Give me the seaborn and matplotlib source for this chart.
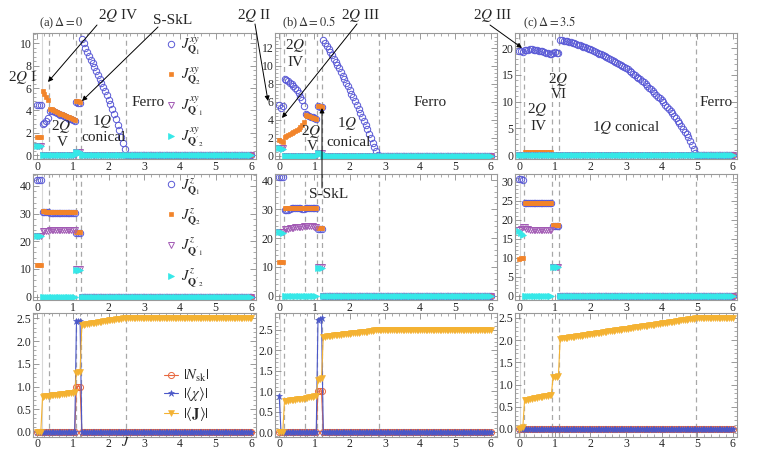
import numpy as np
import matplotlib
matplotlib.use("Agg")
import matplotlib.pyplot as plt
from matplotlib.patches import FancyArrowPatch
from matplotlib.ticker import MultipleLocator, FormatStrFormatter
import seaborn as sns

# sampling grid of the coupling J (0 .. 6, step 0.05)
J = np.round(np.arange(0, 6.0001, 0.05), 2)

# ---------------- (a) Delta = 0 ----------------
# 2Q I (3) | 2Q IV (4) | 2Q V (15) | S-SkL (3) | 1Q conical (25) | Ferro (71)
a_conical = [10.4, 10.0, 9.6, 9.25, 8.9, 8.55, 8.2, 7.85, 7.5, 7.15, 6.8, 6.45, 6.1,
             5.75, 5.35, 4.95, 4.55, 4.1, 3.65, 3.2, 2.7, 2.2, 1.65, 1.1, 0.5]
a_v_q1 = [3.9, 3.95, 3.9, 3.83, 3.76, 3.69, 3.62, 3.55, 3.48, 3.41, 3.34, 3.27, 3.2, 3.13, 3.06]
a_v_q2 = [4.15, 4.08, 4.0, 3.93, 3.86, 3.79, 3.72, 3.65, 3.58, 3.51, 3.44, 3.37, 3.3, 3.23, 3.16]

a_xy_q1 = [4.5] * 3 + [2.75, 2.9, 3.05, 3.3] + a_v_q1 + [4.75, 4.7, 4.65] + a_conical + [0.0] * 71
a_xy_q2 = [1.6] * 3 + [5.7, 5.45, 5.2, 4.9] + a_v_q2 + [4.85, 4.8, 4.75] + [0.0] * 25 + [0.0] * 71
a_xy_q1p = [0.85] * 3 + [0.0] * 4 + [0.0] * 15 + [0.3] * 3 + [0.0] * 96
a_xy_q2p = [0.8] * 3 + [0.0] * 4 + [0.0] * 15 + [0.3] * 3 + [0.0] * 96

a_z_q1 = [42.0] * 3 + [30.5] * 4 + [30.3] * 15 + [23.0] * 3 + [0.0] * 96
a_z_q2 = [11.5] * 3 + [31.0, 30.8, 30.7, 30.6] + [30.6] * 15 + [23.3] * 3 + [0.0] * 96
a_z_q1p = [21.8] * 3 + [23.8] * 4 + [23.9] * 15 + [10.0] * 3 + [0.0] * 96
a_z_q2p = [22.0, 21.8, 22.0] + [0.0] * 4 + [0.0] * 15 + [9.5] * 3 + [0.0] * 96

a_nsk = [0.0] * 22 + [1.0] * 3 + [0.0] * 96
a_chi = [0.0] * 22 + [2.45] * 3 + [0.0] * 96
a_jmag = ([0.0] * 3 + [0.78, 0.785, 0.79, 0.795]
          + [0.80, 0.805, 0.81, 0.815, 0.82, 0.825, 0.83, 0.835, 0.84, 0.845, 0.85, 0.855, 0.86, 0.865, 0.87]
          + [1.3, 1.32, 1.33]
          + [2.35, 2.36, 2.37, 2.37, 2.38, 2.39, 2.40, 2.40, 2.41, 2.42, 2.42, 2.43, 2.44,
             2.44, 2.45, 2.46, 2.46, 2.47, 2.47, 2.48, 2.48, 2.49, 2.49, 2.5, 2.5]
          + [2.5] * 71)

# ---------------- (b) Delta = 0.5 ----------------
# 2Q II (1) | 2Q III (2) | 2Q IV (12) | 2Q V (7) | S-SkL (3) | 1Q conical (32) | Ferro (64)
b_conical = [12.9, 12.55, 12.2, 11.85, 11.5, 11.15, 10.8, 10.45, 10.1, 9.7, 9.3, 8.9, 8.5, 8.1,
             7.7, 7.3, 6.9, 6.5, 6.1, 5.65, 5.2, 4.75, 4.3, 3.85, 3.4, 2.95, 2.45, 1.95, 1.45,
             0.95, 0.5, 0.1]
b_xy_q1 = ([5.6] + [5.3, 5.5]
           + [8.55, 8.4, 8.25, 8.1, 7.95, 7.75, 7.5, 7.25, 6.95, 6.55, 6.15, 5.5]
           + [4.6, 4.5, 4.45, 4.35, 4.25, 4.2, 4.1] + [5.5, 5.45, 5.4] + b_conical + [0.0] * 64)
b_xy_q2 = ([1.7] + [1.6, 1.5]
           + [2.1, 2.2, 2.3, 2.4, 2.5, 2.6, 2.7, 2.85, 3.0, 3.2, 3.45, 3.75]
           + [4.55, 4.45, 4.4, 4.3, 4.2, 4.15, 4.05] + [5.55, 5.5, 5.45] + [0.0] * 96)
b_xy_q1p = [0.85] * 3 + [0.0] * 19 + [0.35] * 3 + [0.0] * 96
b_xy_q2p = [0.9, 0.85, 0.8] + [0.0] * 19 + [0.35] * 3 + [0.0] * 96

b_z_q1 = ([41.0] * 3 + [29.5, 29.6, 29.8, 30.0, 30.2, 30.4, 30.5, 30.5, 30.4, 30.2, 30.1, 30.0]
          + [30.2] * 7 + [23.0] * 3 + [0.0] * 96)
b_z_q2 = [11.8] * 3 + [30.5] * 12 + [30.5] * 7 + [23.3] * 3 + [0.0] * 96
b_z_q1p = ([22.0] * 3 + [23.0, 23.1, 23.25, 23.4, 23.5, 23.6, 23.7, 23.8, 23.85, 23.9, 23.95, 24.0]
           + [24.1, 24.1, 24.1, 24.0, 24.0, 23.9, 23.9] + [10.0] * 3 + [0.0] * 96)
b_z_q2p = [22.2, 22.0, 21.8] + [0.0] * 19 + [9.6] * 3 + [0.0] * 96

b_nsk = [0.0] * 22 + [1.0] * 3 + [0.0] * 96
b_chi = [0.87] + [0.0] * 21 + [2.75, 2.77, 2.78] + [0.0] * 96
b_jmag = ([0.0] * 3
          + [0.76, 0.765, 0.77, 0.775, 0.78, 0.785, 0.79, 0.795, 0.80, 0.805, 0.81, 0.815]
          + [0.83, 0.84, 0.85, 0.855, 0.86, 0.87, 0.88]
          + [1.28, 1.3, 1.31]
          + [2.33, 2.335, 2.34, 2.345, 2.35, 2.355, 2.36, 2.365, 2.37, 2.375, 2.38, 2.385,
             2.39, 2.395, 2.40, 2.405, 2.41, 2.415, 2.42, 2.425, 2.43, 2.435, 2.44, 2.445,
             2.45, 2.455, 2.46, 2.47, 2.475, 2.485, 2.49, 2.5]
          + [2.5] * 64)

# ---------------- (c) Delta = 3.5 ----------------
# 2Q III (3) | 2Q IV (16) | 2Q VI (4) | 1Q conical (77) | Ferro (21)
c_conical = [21.6, 21.5, 21.45, 21.35, 21.3, 21.2, 21.15, 21.05,
             20.95, 20.8, 20.7, 20.55, 20.45, 20.3, 20.2, 20.05, 19.95, 19.8,
             19.65, 19.5, 19.3, 19.15, 19.0, 18.85, 18.7, 18.5, 18.35, 18.2,
             18.0, 17.8, 17.65, 17.45, 17.25, 17.05, 16.85, 16.7, 16.5, 16.3,
             16.05, 15.75, 15.5, 15.2, 14.95, 14.7, 14.4, 14.15, 13.85, 13.6,
             13.25, 12.95, 12.6, 12.3, 11.95, 11.6, 11.3, 10.95, 10.65, 10.3,
             9.9, 9.45, 9.05, 8.65, 8.25, 7.8, 7.4,
             6.95, 6.45, 6.0,
             5.45, 4.9, 4.4, 3.85, 3.3,
             2.6, 1.85, 1.15, 0.4]
c_xy_q1 = ([19.4, 19.4, 19.3]
           + [19.6, 19.7, 19.75, 19.8, 19.8, 19.75, 19.7, 19.6, 19.5, 19.45, 19.4, 19.3,
              19.2, 19.1, 19.0, 18.95]
           + [19.2, 19.3, 19.2, 19.1] + c_conical + [0.0] * 21)
c_xy_q2 = [0.1] * 3 + [0.5] * 16 + [0.15] * 4 + [0.0] * 98
c_xy_q1p = [0.0] * 121
c_xy_q2p = [0.0] * 121

c_z_q1 = [30.8, 30.6, 30.3] + [24.3] * 16 + [18.3] * 4 + [0.0] * 98
c_z_q2 = [9.8, 9.9, 10.0] + [24.5] * 16 + [18.5] * 4 + [0.0] * 98
c_z_q1p = ([17.2, 17.6, 18.1]
           + [18.2, 17.7, 17.5, 17.4, 17.3, 17.3, 17.3, 17.3, 17.3, 17.3, 17.3, 17.3,
              17.3, 17.3, 17.3, 17.4]
           + [7.6] * 4 + [0.0] * 98)
c_z_q2p = [17.0, 16.5, 16.0] + [0.0] * 16 + [7.5] * 4 + [0.0] * 98

c_nsk = [0.0] * 121
c_chi = [0.0] * 121
c_jmag = ([0.0, 0.02, 0.04]
          + [0.65, 0.66, 0.66, 0.67, 0.68, 0.69, 0.70, 0.70, 0.71, 0.72, 0.73, 0.74,
             0.74, 0.75, 0.76, 0.77]
          + [1.16, 1.17, 1.18, 1.19]
          + [2.030, 2.036, 2.042, 2.048, 2.054, 2.060, 2.066, 2.072, 2.078, 2.084,
             2.091, 2.097, 2.103, 2.109, 2.115, 2.121, 2.127, 2.133, 2.139, 2.145,
             2.151, 2.157, 2.163, 2.169, 2.175, 2.181, 2.187, 2.194, 2.200, 2.206,
             2.212, 2.218, 2.224, 2.230, 2.236, 2.242, 2.248, 2.254, 2.260, 2.266,
             2.272, 2.278, 2.284, 2.290, 2.296, 2.302, 2.309, 2.315, 2.321, 2.327,
             2.333, 2.339, 2.345, 2.351, 2.357, 2.363, 2.369, 2.375, 2.381, 2.387,
             2.393, 2.399, 2.405, 2.412, 2.418, 2.423, 2.430, 2.436, 2.442, 2.448,
             2.454, 2.460, 2.466, 2.472, 2.478, 2.484, 2.490]
          + [2.5] * 21)

# phase boundaries (dashed lines); first one in each panel is drawn light solid
bounds_a = [0.13, 0.33, 1.08, 1.23, 2.48]
bounds_b = [0.03, 0.13, 0.73, 1.07, 1.22, 2.83]
bounds_c = [0.02, 0.13, 0.92, 1.13, 4.97]

xy_labels = [r"$J^{xy}_{\mathbf{Q}_1}$", r"$J^{xy}_{\mathbf{Q}_2}$",
             r"$J^{xy}_{\mathbf{Q}'_1}$", r"$J^{xy}_{\mathbf{Q}'_2}$"]
z_labels = [r"$J^{z}_{\mathbf{Q}_1}$", r"$J^{z}_{\mathbf{Q}_2}$",
            r"$J^{z}_{\mathbf{Q}'_1}$", r"$J^{z}_{\mathbf{Q}'_2}$"]
bot_labels = [r"$|N_{\rm sk}|$", r"$|\langle\chi\rangle|$", r"$|\langle\mathbf{J}\rangle|$"]

for arr in [a_xy_q1, a_xy_q2, a_xy_q1p, a_xy_q2p, a_z_q1, a_z_q2, a_z_q1p, a_z_q2p,
            a_nsk, a_chi, a_jmag, b_xy_q1, b_xy_q2, b_xy_q1p, b_xy_q2p, b_z_q1, b_z_q2,
            b_z_q1p, b_z_q2p, b_nsk, b_chi, b_jmag, c_xy_q1, c_xy_q2, c_z_q1, c_z_q2,
            c_z_q1p, c_z_q2p, c_jmag]:
    assert len(arr) == len(J), len(arr)

# ---------------- styling ----------------
sns.set_theme(style="ticks")
plt.rcParams["font.family"] = ["Liberation Serif", "DejaVu Serif"]
plt.rcParams["mathtext.fontset"] = "stix"

BLUE, ORANGE, PURPLE, CYAN = "#5a5ad6", "#f2842a", "#a25ab4", "#35e8e8"
RED, CHI, GOLD = "#e8683f", "#4b58c8", "#f4b232"

q_styles = [
    dict(color=BLUE, marker="o", markerfacecolor="none", markeredgecolor=BLUE, markersize=4.6, markeredgewidth=0.7),
    dict(color=ORANGE, marker="s", markerfacecolor=ORANGE, markeredgecolor=ORANGE, markersize=3.4, markeredgewidth=0.5),
    dict(color=PURPLE, marker="v", markerfacecolor="none", markeredgecolor=PURPLE, markersize=4.6, markeredgewidth=0.7),
    dict(color=CYAN, marker=">", markerfacecolor=CYAN, markeredgecolor=CYAN, markersize=4.0, markeredgewidth=0.5),
]
bot_styles = [
    dict(color=RED, marker="o", markerfacecolor="none", markeredgecolor=RED, markersize=4.4, markeredgewidth=0.7),
    dict(color=CHI, marker="*", markerfacecolor=CHI, markeredgecolor=CHI, markersize=4.8, markeredgewidth=0.4),
    dict(color=GOLD, marker="v", markerfacecolor=GOLD, markeredgecolor=GOLD, markersize=4.2, markeredgewidth=0.4),
]

W, H = 757, 450
fig = plt.figure(figsize=(W / 100, H / 100), dpi=100)

col_l = [33.3, 275.0, 515.0]
col_r = [256.0, 496.7, 736.7]
row_t = [33.3, 174.0, 313.0]
row_b = [159.3, 300.0, 436.5]
xlims = [(-0.11, 6.13), (-0.12, 6.17), (-0.12, 6.11)]

panels = [
    [[a_xy_q1, a_xy_q2, a_xy_q1p, a_xy_q2p], [a_z_q1, a_z_q2, a_z_q1p, a_z_q2p], [a_nsk, a_chi, a_jmag]],
    [[b_xy_q1, b_xy_q2, b_xy_q1p, b_xy_q2p], [b_z_q1, b_z_q2, b_z_q1p, b_z_q2p], [b_nsk, b_chi, b_jmag]],
    [[c_xy_q1, c_xy_q2, c_xy_q1p, c_xy_q2p], [c_z_q1, c_z_q2, c_z_q1p, c_z_q2p], [c_nsk, c_chi, c_jmag]],
]
bounds = [bounds_a, bounds_b, bounds_c]
ylims = [
    [(-0.38, 10.9), (-1.2, 44.3), (-0.1, 2.62)],
    [(-0.4, 13.6), (-1.4, 42.1), (-0.11, 2.91)],
    [(-0.8, 22.8), (-1.05, 32.0), (-0.17, 2.61)],
]
yticks = [
    [np.arange(0, 11, 2), np.arange(0, 41, 10), np.arange(0, 2.6, 0.5)],
    [np.arange(0, 13, 2), np.arange(0, 41, 10), np.arange(0, 2.6, 0.5)],
    [np.arange(0, 21, 5), np.arange(0, 31, 5), np.arange(0, 2.6, 0.5)],
]

axes = {}
for c in range(3):
    for r in range(3):
        ax = fig.add_axes([col_l[c] / W, 1 - row_b[r] / H,
                           (col_r[c] - col_l[c]) / W, (row_b[r] - row_t[r]) / H])
        axes[(r, c)] = ax
        for k, bx in enumerate(bounds[c]):
            if k == 0:
                ax.axvline(bx, color="#d8d8d8", lw=0.8, zorder=0)
            else:
                ax.axvline(bx, color="#a8a8a8", lw=0.9, ls=(0, (4, 3)), zorder=0)
        if r < 2:
            labels = xy_labels if r == 0 else z_labels
            for y, lab, st in zip(panels[c][r], labels, q_styles):
                sns.lineplot(x=J, y=y, ax=ax, label=lab, errorbar=None, legend=False,
                             linewidth=0, **st)
        else:
            for y, lab, st in zip(panels[c][r], bot_labels, bot_styles):
                sns.lineplot(x=J, y=y, ax=ax, label=lab, errorbar=None, legend=False,
                             linewidth=0.8, **st)
            ax.yaxis.set_major_formatter(FormatStrFormatter("%.1f"))
        ax.set_xlim(*xlims[c])
        ax.set_ylim(*ylims[c][r])
        ax.set_xticks(range(7))
        ax.set_yticks(yticks[c][r])
        ax.xaxis.set_minor_locator(MultipleLocator(0.2))
        ax.yaxis.set_minor_locator(MultipleLocator((yticks[c][r][1] - yticks[c][r][0]) / 5))
        ax.set_xlabel("")
        ax.set_ylabel("")
        ax.tick_params(which="both", direction="in", top=True, right=True, color="#8a8a8a")
        ax.tick_params(which="major", length=4, width=0.6, labelsize=8.5, pad=1.2)
        ax.tick_params(which="minor", length=2, width=0.5)
        for sp in ax.spines.values():
            sp.set_color("#9a9a9a")
            sp.set_linewidth(0.8)

# legends in the left column
for r, (ycen, hl, ls) in enumerate([(0.53, 0.6, 0.55), (0.532, 0.6, 0.6), (0.333, 1.0, 0.1)]):
    ax = axes[(r, 0)]
    h, l = ax.get_legend_handles_labels()
    ax.legend(h, l, loc="center left", bbox_to_anchor=(0.585 if r == 2 else 0.6, ycen),
              frameon=False, fontsize=10.5, handlelength=hl, handletextpad=0.35,
              labelspacing=ls, borderpad=0, borderaxespad=0, numpoints=1)


def fp(x, y):
    return (x / W, 1 - y / H)


# panel titles
for x, t in [(61, r"(a)$\,\Delta=0$"), (309, r"(b)$\,\Delta=0.5$"), (550, r"(c)$\,\Delta=3.5$")]:
    fig.text(*fp(x, 23), t, fontsize=9, ha="center", va="center", color="#333333")

# phase labels
phase_text = [
    (118, 15, r"2$Q$ IV"), (173, 20, "S-SkL"), (22, 77, r"2$Q$ I"),
    (61, 127, r"2$Q$"), (62, 143, "V"), (102, 121, r"1$Q$"), (104, 137, "conical"),
    (148, 103, "Ferro"),
    (254, 16, r"2$Q$ II"), (360, 15, r"2$Q$ III"), (295, 46, r"2$Q$"), (295, 62, "IV"),
    (311, 131, r"2$Q$"), (312, 147, "V"), (347, 124, r"1$Q$"), (349, 142, "conical"),
    (430, 102, "Ferro"), (329, 195, "S-SkL"),
    (492, 15, r"2$Q$ III"), (558, 79, r"2$Q$"), (559, 95, "VI"), (537, 110, r"2$Q$"),
    (538, 126, "IV"), (626, 128, r"1$Q$ conical"), (716, 103, "Ferro"),
]
for x, y, t in phase_text:
    fig.text(*fp(x, y), t, fontsize=11, ha="center", va="center")

fig.text(*fp(125, 443), r"$J$", fontsize=10, ha="center", va="center")

arrows = [((97, 25), (48, 82)), ((158, 27), (82, 101)), ((255, 24), (268, 101)),
          ((357, 24), (282, 118)), ((322, 188), (322, 108)), ((490, 25), (522, 48))]
for tail, head in arrows:
    fig.add_artist(FancyArrowPatch(fp(*tail), fp(*head), transform=fig.transFigure,
                                   arrowstyle="-|>", mutation_scale=7, color="black",
                                   lw=0.7, shrinkA=0, shrinkB=0, zorder=5))

fig.savefig("out.png", dpi=100)
